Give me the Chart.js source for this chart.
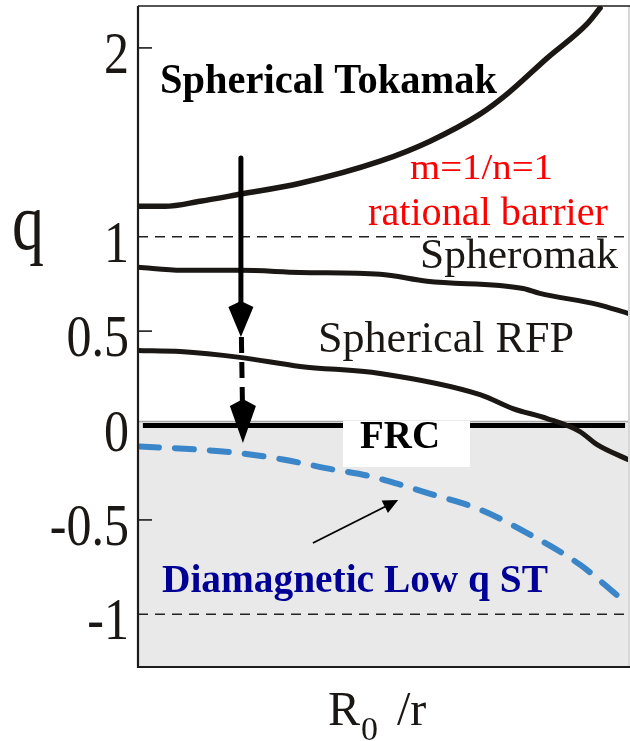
<!DOCTYPE html>
<html>
<head>
<meta charset="utf-8">
<script src="https://cdn.jsdelivr.net/npm/chart.js@4/dist/chart.umd.min.js"></script>
<style>
  html, body { margin: 0; padding: 0; background: #ffffff; }
  #wrap { width: 630px; height: 741px; }
</style>
</head>
<body>
<div id="wrap"><canvas id="c" width="630" height="741"></canvas></div>
<script>
// Safety factor q against aspect ratio R0/r for several compact configurations
const tokamakX   = [0, 0.055, 0.127, 0.208, 0.331, 0.494, 0.596, 0.698, 0.753, 0.835, 0.916, 0.943];
const tokamakQ   = [1.161, 1.161, 1.188, 1.225, 1.283, 1.400, 1.506, 1.649, 1.755, 1.946, 2.126, 2.211];

const spheromakX = [0, 0.090, 0.208, 0.331, 0.494, 0.590, 0.786, 0.820, 0.937, 1.0];
const spheromakQ = [0.838, 0.822, 0.822, 0.811, 0.801, 0.764, 0.726, 0.700, 0.642, 0.594];

const rfpX       = [0, 0.086, 0.208, 0.331, 0.494, 0.698, 0.765, 0.835, 0.902, 0.937, 1.0];
const rfpQ       = [0.398, 0.392, 0.361, 0.313, 0.276, 0.164, 0.090, 0.037, -0.032, -0.101, -0.180];

const diamagX    = [0.004, 0.120, 0.214, 0.296, 0.398, 0.467, 0.535, 0.602, 0.698, 0.800, 0.902, 0.969, 1.0];
const diamagQ    = [-0.111, -0.127, -0.148, -0.180, -0.233, -0.265, -0.313, -0.366, -0.445, -0.578, -0.737, -0.880, -0.949];

// FRC sits at q = 0; rational surfaces at |q| = 1
const frcX       = [0.01, 0.994];
const frcQ       = [0, 0];
const barrierX   = [0, 1];
const barrierUpQ = [1, 1];
const barrierLoQ = [-1, -1];

// Axis ticks
const qTicks      = [-1, -0.5, 0, 0.5, 1, 2];
const qTickLabels = ['-1', '-0.5', '0', '0.5', '1', '2'];
const shortTickValues = [2, 0.5, -0.5];

const SERIF = '"Liberation Serif", "Times New Roman", serif';

function pts(xs, ys) { return xs.map((x, i) => ({ x: x, y: ys[i] })); }

function fitText(ctx, text, x, y, size, bold, width, color, sy) {
  ctx.save();
  ctx.font = (bold ? 'bold ' : '') + size + 'px ' + SERIF;
  const w = ctx.measureText(text).width;
  const sx = width ? width / w : 1;
  ctx.translate(x, y);
  ctx.scale(sx, sy || 1);
  ctx.fillStyle = color;
  ctx.textAlign = 'left';
  ctx.textBaseline = 'alphabetic';
  ctx.fillText(text, 0, 0);
  ctx.restore();
}

// kite-shaped arrow head pointing along (dx,dy)
function kiteHead(ctx, tx, ty, dx, dy, len, wideAt, half) {
  const px = -dy, py = dx;
  ctx.beginPath();
  ctx.moveTo(tx, ty);
  ctx.lineTo(tx - dx * wideAt + px * half, ty - dy * wideAt + py * half);
  ctx.lineTo(tx - dx * len, ty - dy * len);
  ctx.lineTo(tx - dx * wideAt - px * half, ty - dy * wideAt - py * half);
  ctx.closePath();
  ctx.fill();
}

const decorations = {
  id: 'decorations',
  beforeDraw(chart) {
    const ctx = chart.ctx;
    ctx.save();
    ctx.fillStyle = '#ffffff';
    ctx.fillRect(0, 0, chart.width, chart.height);
    ctx.restore();
  },
  beforeDatasetsDraw(chart) {
    const ctx = chart.ctx, a = chart.chartArea, y = chart.scales.y;
    const y0 = y.getPixelForValue(0) - 4;
    ctx.save();
    // negative-q region
    ctx.fillStyle = '#e9e9e9';
    ctx.fillRect(a.left, y0, a.right - a.left, a.bottom - y0);
    ctx.strokeStyle = '#a8a8a8';
    ctx.lineWidth = 1.5;
    ctx.beginPath();
    ctx.moveTo(a.left, y0);
    ctx.lineTo(a.right, y0);
    ctx.stroke();
    ctx.restore();
  },
  afterDatasetsDraw(chart) {
    const ctx = chart.ctx, a = chart.chartArea, xs = chart.scales.x, ys = chart.scales.y;
    ctx.save();

    // frame
    ctx.strokeStyle = '#bdbdbd';
    ctx.lineWidth = 1.2;
    ctx.beginPath(); ctx.moveTo(a.right + 1, a.top); ctx.lineTo(a.right + 1, a.bottom); ctx.stroke();
    ctx.strokeStyle = '#1e1c1a';
    ctx.lineWidth = 1.6;
    ctx.beginPath(); ctx.moveTo(a.left, a.top); ctx.lineTo(a.right + 2, a.top); ctx.stroke();
    ctx.lineWidth = 2.2;
    ctx.beginPath(); ctx.moveTo(a.left, a.top); ctx.lineTo(a.left, a.bottom); ctx.lineTo(a.right + 2, a.bottom); ctx.stroke();

    // short inner ticks
    ctx.lineWidth = 1.6;
    shortTickValues.forEach(v => {
      const py = ys.getPixelForValue(v);
      ctx.beginPath(); ctx.moveTo(a.left, py); ctx.lineTo(a.left + 14, py); ctx.stroke();
    });

    // tick labels
    qTicks.forEach((v, i) => {
      const py = ys.getPixelForValue(v);
      ctx.font = '50px ' + SERIF;
      const w = ctx.measureText(qTickLabels[i]).width;
      fitText(ctx, qTickLabels[i], a.left - 9 - w, py + 25, 50, false, null, '#1a1714', 1.18);
    });

    // axis titles
    fitText(ctx, 'q', 12, 249, 80, false, 32, '#1a1714');
    fitText(ctx, 'R', 328, 725, 48, false, null, '#1a1714');
    fitText(ctx, '0', 361, 740, 34, false, null, '#1a1714');
    fitText(ctx, '/r', 397, 725, 48, false, null, '#1a1714');

    // FRC label box
    ctx.fillStyle = '#ffffff';
    ctx.fillRect(343, 421, 127, 46);
    fitText(ctx, 'FRC', 360, 448, 39, true, 80, '#000000');

    // region labels
    fitText(ctx, 'Spherical Tokamak', 160, 93, 42, true, 337, '#000000');
    fitText(ctx, 'm=1/n=1', 410, 179, 35, false, 143, '#ff0000');
    fitText(ctx, 'rational barrier', 368, 225, 40, false, 240, '#ff0000');
    fitText(ctx, 'Spheromak', 420, 268, 43, false, 198, '#1a1714');
    fitText(ctx, 'Spherical RFP', 318, 352, 44, false, 256, '#1a1714');
    fitText(ctx, 'Diamagnetic Low q ST', 162, 592, 40, true, 386, '#000096');

    // transition arrow: tokamak -> diamagnetic state
    const ax = xs.getPixelForValue(0.21);
    const aTop = ys.getPixelForValue(1.417);
    const head1Tip = ys.getPixelForValue(0.469);
    const head2Tip = ys.getPixelForValue(-0.093);
    ctx.fillStyle = '#000000';
    ctx.strokeStyle = '#000000';
    ctx.lineCap = 'round';
    ctx.lineWidth = 5;
    ctx.beginPath(); ctx.moveTo(ax, aTop); ctx.lineTo(ax, head1Tip - 33); ctx.stroke();
    kiteHead(ctx, ax, head1Tip, 0, 1, 36, 30, 12.5);
    ctx.lineCap = 'butt';
    ctx.setLineDash([16, 9]);
    ctx.beginPath(); ctx.moveTo(ax + 0.5, head1Tip); ctx.lineTo(ax + 1.5, head2Tip - 42); ctx.stroke();
    ctx.setLineDash([]);
    kiteHead(ctx, ax + 2, head2Tip, 0, 1, 44, 37, 13);

    // pointer to the diamagnetic curve
    const bx0 = xs.getPixelForValue(0.357), by0 = ys.getPixelForValue(-0.622);
    const bx1 = xs.getPixelForValue(0.531), by1 = ys.getPixelForValue(-0.395);
    const len = Math.hypot(bx1 - bx0, by1 - by0);
    const dx = (bx1 - bx0) / len, dy = (by1 - by0) / len;
    ctx.lineWidth = 1.8;
    ctx.beginPath(); ctx.moveTo(bx0, by0); ctx.lineTo(bx1 - dx * 12, by1 - dy * 12); ctx.stroke();
    ctx.beginPath();
    ctx.moveTo(bx1, by1);
    ctx.lineTo(bx1 - dx * 15 - dy * 7, by1 - dy * 15 + dx * 7);
    ctx.lineTo(bx1 - dx * 15 + dy * 7, by1 - dy * 15 - dx * 7);
    ctx.closePath();
    ctx.fill();

    ctx.restore();
  }
};

const black = '#1a1714';
const curve = (label, xs, ys, color, width, dash) => ({
  label: label,
  data: pts(xs, ys),
  borderColor: color,
  borderWidth: width,
  borderDash: dash || [],
  borderCapStyle: 'round',
  borderJoinStyle: 'round',
  pointRadius: 0,
  fill: false,
  cubicInterpolationMode: 'monotone'
});

new Chart(document.getElementById('c'), {
  type: 'line',
  data: {
    datasets: [
      curve('Spherical Tokamak', tokamakX, tokamakQ, black, 5.5),
      curve('Spheromak', spheromakX, spheromakQ, black, 5),
      curve('Spherical RFP', rfpX, rfpQ, black, 5),
      curve('Diamagnetic Low q ST', diamagX, diamagQ, '#3a86c8', 6, [19, 16]),
      Object.assign(curve('FRC', frcX, frcQ, '#000000', 5), { borderCapStyle: 'butt' }),
      Object.assign(curve('q = 1', barrierX, barrierUpQ, '#222222', 1.5, [10, 7]), { borderCapStyle: 'butt' }),
      Object.assign(curve('q = -1', barrierX, barrierLoQ, '#222222', 1.5, [10, 7]), { borderCapStyle: 'butt' })
    ]
  },
  options: {
    responsive: false,
    animation: false,
    layout: { padding: { left: 138, top: 6, right: 2, bottom: 74 } },
    plugins: { legend: { display: false }, tooltip: { enabled: false } },
    scales: {
      x: { type: 'linear', min: 0, max: 1, display: false },
      y: {
        type: 'linear', min: -1.279, max: 2.222, display: false,
        afterBuildTicks: (s) => { s.ticks = qTicks.map(v => ({ value: v })); }
      }
    }
  },
  plugins: [decorations]
});
</script>
</body>
</html>
